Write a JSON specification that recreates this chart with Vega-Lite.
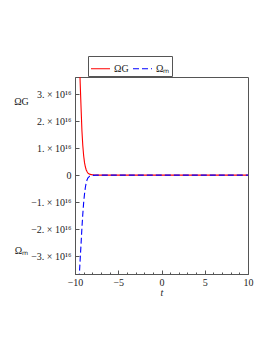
{
  "$schema": "https://vega.github.io/schema/vega-lite/v6.json",
  "width": 173,
  "height": 197,
  "autosize": "none",
  "padding": {"left": 75, "top": 77, "right": 24, "bottom": 78},
  "background": "white",
  "config": {
    "font": "Liberation Serif",
    "view": {"stroke": "#555", "strokeWidth": 1},
    "axis": {"grid": false, "domainColor": "#555", "tickColor": "#555", "labelColor": "#222", "titleColor": "#222", "labelFont": "Liberation Serif", "titleFont": "Liberation Serif", "labelFontSize": 10, "titleFontSize": 10, "titleFontWeight": "normal"},
    "legend": {"labelFont": "Liberation Serif", "labelColor": "#222"}
  },
  "data": {"values": [
    {"t": -9.55, "v": 5.2e16, "s": "ΩG"},
    {"t": -9.5, "v": 4.4e16, "s": "ΩG"},
    {"t": -9.4, "v": 3.4e16, "s": "ΩG"},
    {"t": -9.3, "v": 2.5e16, "s": "ΩG"},
    {"t": -9.2, "v": 1.65e16, "s": "ΩG"},
    {"t": -9.1, "v": 1.1e16, "s": "ΩG"},
    {"t": -9.0, "v": 0.72e16, "s": "ΩG"},
    {"t": -8.9, "v": 0.46e16, "s": "ΩG"},
    {"t": -8.8, "v": 0.3e16, "s": "ΩG"},
    {"t": -8.7, "v": 0.19e16, "s": "ΩG"},
    {"t": -8.6, "v": 0.12e16, "s": "ΩG"},
    {"t": -8.5, "v": 0.07e16, "s": "ΩG"},
    {"t": -8.3, "v": 0.03e16, "s": "ΩG"},
    {"t": -8.0, "v": 0.01e16, "s": "ΩG"},
    {"t": -7.5, "v": 0, "s": "ΩG"},
    {"t": 10, "v": 0, "s": "ΩG"},
    {"t": -9.55, "v": -4.2e16, "s": "Ωₘ"},
    {"t": -9.5, "v": -3.7e16, "s": "Ωₘ"},
    {"t": -9.4, "v": -3.1e16, "s": "Ωₘ"},
    {"t": -9.3, "v": -2.55e16, "s": "Ωₘ"},
    {"t": -9.2, "v": -1.95e16, "s": "Ωₘ"},
    {"t": -9.1, "v": -1.45e16, "s": "Ωₘ"},
    {"t": -9.0, "v": -1.02e16, "s": "Ωₘ"},
    {"t": -8.9, "v": -0.7e16, "s": "Ωₘ"},
    {"t": -8.8, "v": -0.45e16, "s": "Ωₘ"},
    {"t": -8.7, "v": -0.28e16, "s": "Ωₘ"},
    {"t": -8.6, "v": -0.17e16, "s": "Ωₘ"},
    {"t": -8.5, "v": -0.1e16, "s": "Ωₘ"},
    {"t": -8.3, "v": -0.04e16, "s": "Ωₘ"},
    {"t": -8.0, "v": -0.01e16, "s": "Ωₘ"},
    {"t": -7.5, "v": 0, "s": "Ωₘ"},
    {"t": 10, "v": 0, "s": "Ωₘ"}
  ]},
  "resolve": {"axis": {"x": "independent", "y": "independent"}},
  "layer": [
    {
      "mark": {"type": "line", "clip": true, "strokeWidth": 1.1},
      "encoding": {
        "x": {"field": "t", "type": "quantitative", "scale": {"domain": [-10, 10], "nice": false},
          "axis": {"orient": "bottom", "values": [-10, -5, 0, 5, 10], "labelExpr": "datum.value < 0 ? '−' + abs(datum.value) : '' + datum.value", "tickSize": -4, "labelPadding": 7, "title": "t", "titleFontStyle": "italic", "titlePadding": 0, "labelFlush": false}},
        "y": {"field": "v", "type": "quantitative", "scale": {"domain": [-3.66e16, 3.63e16], "nice": false, "zero": false},
          "axis": {"orient": "left", "values": [-3e16, -2e16, -1e16, 0, 1e16, 2e16, 3e16], "labelExpr": "datum.value == 0 ? '0' : (datum.value < 0 ? '−' : '') + format(abs(datum.value) / 1e16, 'd') + '. × 10¹⁶'", "tickSize": -4, "labelPadding": 8, "title": "ΩG", "titleAngle": 0, "titleX": -54, "titleY": 24, "titleAlign": "center", "titleBaseline": "middle", "titleFontSize": 10, "labelFlush": false}},
        "color": {"field": "s", "type": "nominal", "sort": ["ΩG", "Ωₘ"], "scale": {"domain": ["ΩG", "Ωₘ"], "range": ["#ff0000", "#0000ff"]},
          "legend": {"title": null, "orient": "none", "direction": "horizontal", "legendX": 13, "legendY": -21, "symbolType": "stroke", "symbolSize": 361, "symbolStrokeWidth": 1.2, "labelFontSize": 10, "strokeColor": "#555", "padding": 2, "columnPadding": 1, "labelOffset": 3, "symbolOffset": 0}},
        "strokeDash": {"field": "s", "type": "nominal", "sort": ["ΩG", "Ωₘ"], "scale": {"domain": ["ΩG", "Ωₘ"], "range": [[1, 0], [6, 3]]}, "legend": null}
      }
    },
    {
      "mark": {"type": "point", "opacity": 0},
      "encoding": {
        "x": {"field": "t", "type": "quantitative", "scale": {"domain": [-10, 10], "nice": false},
          "axis": {"orient": "bottom", "values": [-9, -8, -7, -6, -4, -3, -2, -1, 1, 2, 3, 4, 6, 7, 8, 9], "labels": false, "tickSize": -2, "domain": false, "title": null}},
        "y": {"field": "v", "type": "quantitative", "scale": {"domain": [-3.66e16, 3.63e16], "nice": false, "zero": false},
          "axis": {"orient": "left", "labels": false, "ticks": false, "domain": false, "title": "Ωₘ", "titleColor": "#222", "titleAngle": 0, "titleX": -54, "titleY": 173, "titleAlign": "center", "titleBaseline": "middle", "titleFontSize": 10}}
      }
    }
  ]
}
